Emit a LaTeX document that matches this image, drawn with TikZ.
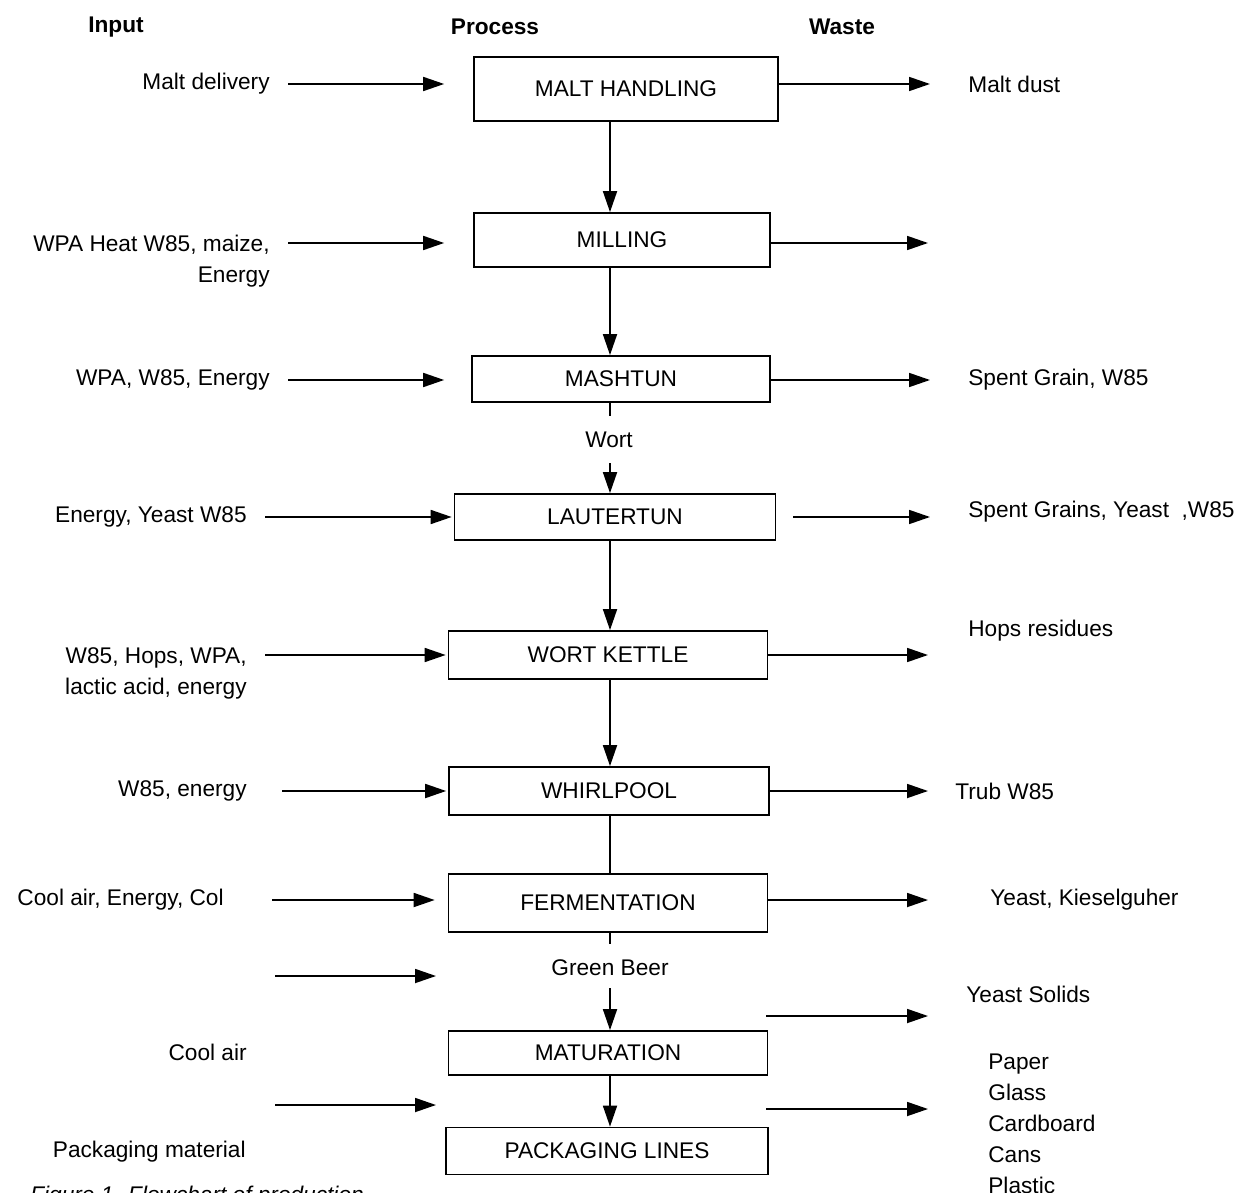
\documentclass[tikz,border=0pt]{standalone}
\usepackage{fontspec}
\setmainfont{Liberation Sans}
\usepackage{tikz}
\usetikzlibrary{positioning}
\usetikzlibrary{shapes,arrows,calc,arrows.meta}

\begin{document}
\begin{tikzpicture}[x=0.02cm, y=-0.02cm, font=\fontsize{12.9}{17.6}\selectfont,
    stage/.style={draw, rectangle, line width=1pt, inner sep=0pt},
    flow/.style={-{Triangle[length=0.42cm,width=0.28cm]}, line width=1pt},
    plain/.style={line width=1pt},
    inlbl/.style={anchor=east, align=right, inner sep=0pt},
    outlbl/.style={anchor=west, align=left, inner sep=0pt},
    head/.style={font=\fontsize{12.9}{15}\selectfont\bfseries}]
    \useasboundingbox (0,0) rectangle (1239,1192);

    % Headings
    \node [head] (hin) at (116,27) {Input};
    \node [head] (hproc) at (495,27) {Process};
    \node [head] (hout) at (842,27) {Waste};

    % Process boxes
    \node [stage, minimum width=6.08cm, minimum height=1.28cm] (malt) at (626,89) {MALT HANDLING};
    \node [stage, minimum width=5.92cm, minimum height=1.08cm] (mill) at (622,240) {MILLING};
    \node [stage, minimum width=5.96cm, minimum height=0.92cm] (mash) at (621,379) {MASHTUN};
    \node [stage, minimum width=6.42cm, minimum height=0.92cm] (lauter) at (615,517) {LAUTERTUN};
    \node [stage, minimum width=6.38cm, minimum height=0.96cm] (kettle) at (608,655) {WORT KETTLE};
    \node [stage, minimum width=6.40cm, minimum height=0.96cm] (whirl) at (609,791) {WHIRLPOOL};
    \node [stage, minimum width=6.38cm, minimum height=1.16cm] (ferment) at (608,903) {FERMENTATION};
    \node [stage, minimum width=6.38cm, minimum height=0.88cm] (matur) at (608,1053) {MATURATION};
    \node [stage, minimum width=6.44cm, minimum height=0.94cm] (pack) at (607,1151) {PACKAGING LINES};

    \node (wort) at (609,440) {Wort};
    \node (green) at (610,968) {Green Beer};

    % Inputs
    \node [inlbl] (lmalt) at (270,84) {Malt delivery};
    \node [inlbl, anchor=north east] (lmill) at (270,235) {WPA Heat W85, maize,\\Energy};
    \node [inlbl] (lmash) at (270,380) {WPA, W85, Energy};
    \node [inlbl] (llauter) at (247,517) {Energy, Yeast W85};
    \node [inlbl, anchor=north east] (lkettle) at (247,647) {W85, Hops, WPA,\\lactic acid, energy};
    \node [inlbl] (lwhirl) at (247,791) {W85, energy};
    \node [inlbl] (lferment) at (224,900) {Cool air, Energy, Col};
    \node [inlbl] (lmatur) at (247,1052) {Cool air};
    \node [inlbl] (lpack) at (246,1152) {Packaging material};

    % Waste
    \node [outlbl] (wmalt) at (968,84) {Malt dust};
    \node [outlbl] (wmash) at (968,380) {Spent Grain, W85};
    \node [outlbl] (wlauter) at (968,512) {Spent Grains, Yeast~ ,W85};
    \node [outlbl] (wkettle) at (968,631) {Hops residues};
    \node [outlbl] (wwhirl) at (955,791) {Trub W85};
    \node [outlbl] (wferment) at (990,900) {Yeast, Kieselguher};
    \node [outlbl] (wmatur) at (966,994) {Yeast Solids};
    \node [outlbl, anchor=north west] (wpack) at (988,1054) {Paper\\Glass\\Cardboard\\Cans\\Plastic};

    \node [anchor=north west, inner sep=0pt, font=\fontsize{12.9}{15}\selectfont\itshape] (caption) at (30,1186)
        {Figure 1. Flowchart of production};

    % Arrow ends
    \coordinate (spine) at (610,0);
    \coordinate (in1) at (288,84);
    \coordinate (in2) at (288,243);
    \coordinate (in3) at (288,380);
    \coordinate (in4) at (265,517);
    \coordinate (in5) at (265,655);
    \coordinate (in6) at (282,791);
    \coordinate (in7) at (272,900);
    \coordinate (in8) at (275,976);
    \coordinate (in8e) at (436,976);
    \coordinate (in9) at (275,1105);
    \coordinate (in9e) at (436,1105);
    \coordinate (out1) at (930,84);
    \coordinate (out2) at (928,243);
    \coordinate (out3) at (930,380);
    \coordinate (out4) at (930,517);
    \coordinate (out5) at (928,655);
    \coordinate (out6) at (928,791);
    \coordinate (out7) at (928,900);
    \coordinate (out8s) at (766,1016);
    \coordinate (out8) at (928,1016);
    \coordinate (out9s) at (766,1109);
    \coordinate (out9) at (928,1109);

    % Arrows
    \draw [flow] (spine |- malt.south) -- (spine |- mill.north);
    \draw [flow] (spine |- mill.south) -- (spine |- mash.north);
    \draw [plain] (spine |- mash.south) -- ++(0,13);
    \draw [flow, shorten <=0.18cm] (spine |- wort.south) -- (spine |- lauter.north);
    \draw [flow] (spine |- lauter.south) -- (spine |- kettle.north);
    \draw [flow] (spine |- kettle.south) -- (spine |- whirl.north);
    \draw [plain] (spine |- whirl.south) -- (spine |- ferment.north);
    \draw [plain] (spine |- ferment.south) -- ++(0,11);
    \draw [flow, shorten <=0.12cm] (spine |- green.south) -- (spine |- matur.north);
    \draw [flow] (spine |- matur.south) -- (spine |- pack.north);

    \draw [flow, shorten >=0.58cm] (in1) -- (in1 -| malt.west);
    \draw [flow, shorten >=0.58cm] (in2) -- (in2 -| mill.west);
    \draw [flow, shorten >=0.54cm] (in3) -- (in3 -| mash.west);
    \draw [flow, shorten >=0.04cm] (in4) -- (in4 -| lauter.west);
    \draw [flow, shorten >=0.04cm] (in5) -- (in5 -| kettle.west);
    \draw [flow, shorten >=0.04cm] (in6) -- (in6 -| whirl.west);
    \draw [flow, shorten >=0.26cm] (in7) -- (in7 -| ferment.west);
    \draw [flow] (in8) -- (in8e);
    \draw [flow] (in9) -- (in9e);

    \draw [flow] (out1 -| malt.east) -- (out1);
    \draw [flow] (out2 -| mill.east) -- (out2);
    \draw [flow] (out3 -| mash.east) -- (out3);
    \draw [flow, shorten <=0.34cm] (out4 -| lauter.east) -- (out4);
    \draw [flow] (out5 -| kettle.east) -- (out5);
    \draw [flow] (out6 -| whirl.east) -- (out6);
    \draw [flow] (out7 -| ferment.east) -- (out7);
    \draw [flow] (out8s) -- (out8);
    \draw [flow] (out9s) -- (out9);
\end{tikzpicture}
\end{document}
